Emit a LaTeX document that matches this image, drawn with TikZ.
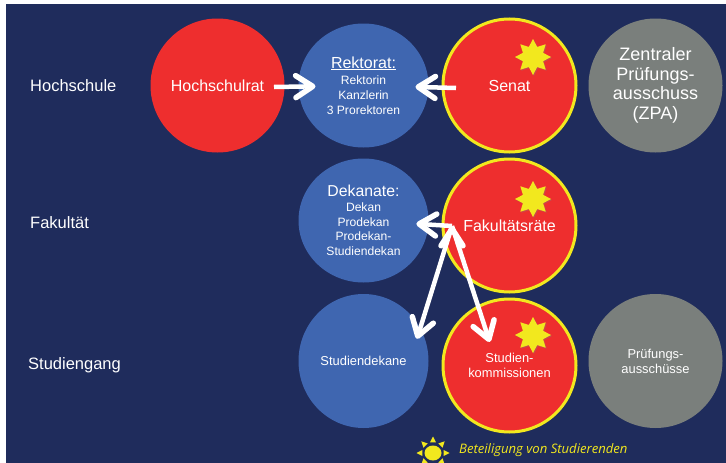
\documentclass[tikz,border=0pt]{standalone}
\usepackage{fontspec}
\setmainfont{Liberation Sans}
\newfontfamily\legendfont{Open Sans}
\usetikzlibrary{arrows.meta,shapes,shadows,positioning}

\definecolor{navy}{HTML}{1F2C5C}
\definecolor{gremred}{HTML}{EE2E2E}
\definecolor{gremblue}{HTML}{3F66B0}
\definecolor{gremgray}{HTML}{7A7F7C}
\definecolor{sunyellow}{HTML}{F2E81E}

\begin{document}
\begin{tikzpicture}[x=1pt,y=-1pt,node distance=146pt,
	gremium/.style={ellipse,text=white,align=center,inner sep=0pt,outer sep=0pt,minimum width=134pt,minimum height=134pt},
	red/.style={gremium,fill=gremred},
	ring/.style={gremium,fill=gremred,draw=sunyellow,line width=3pt,minimum width=133pt,minimum height=133pt},
	blue/.style={gremium,fill=gremblue,minimum width=130pt},
	flat/.style={blue,minimum height=124pt},
	gray/.style={gremium,fill=gremgray},
	big/.style={font=\fontsize{16}{19}\selectfont},
	small/.style={font=\fontsize{12.1}{14.8}\selectfont},
	medium/.style={font=\fontsize{12.9}{15}\selectfont},
	level/.style={text=white,anchor=west,inner sep=0pt,font=\fontsize{16.5}{20}\selectfont},
	badge/.style={star,star points=8,star point ratio=1.65,fill=sunyellow,inner sep=0pt,minimum size=36pt,
		drop shadow={shadow xshift=1pt,shadow yshift=-1pt,opacity=.35}},
	flow/.style={draw=white,line width=4.5pt,line join=round,
		-{Straight Barb[length=17pt,width=22pt,line width=5.5pt,round]}}]

	\useasboundingbox (0,0) rectangle (726,463);
	\fill[navy] (6,4) rectangle (726,463);

	% top row
	\node[red,big] (hochschulrat) at (217.5,85.5) {Hochschulrat};
	\node[flat,small] (rektorat) [right of=hochschulrat] {{\fontsize{16}{19}\selectfont\underline{Rektorat:}}\\[2pt]Rektorin\\Kanzlerin\\3 Prorektoren};
	\node[ring,big] (senat) [right of=rektorat] {Senat};
	\node[gray,font=\fontsize{18}{19.5}\selectfont] (zpa) [right of=senat] {Zentraler\\Prüfungs-\\ausschuss\\(ZPA)};

	% middle and bottom row
	\node[flat,small] (dekanate) [below of=rektorat,node distance=135pt] {{\fontsize{15.8}{19}\selectfont Dekanate:}\\Dekan\\Prodekan\\Prodekan-\\Studiendekan};
	\node[ring,big] (fakultaet) [below of=senat,node distance=140pt] {Fakultätsräte};
	\node[blue,medium] (studiendekane) [below of=dekanate,node distance=140.5pt] {Studiendekane};
	\node[ring,medium] (kommissionen) [below of=fakultaet,node distance=140pt] {Studien-\\kommissionen};
	\node[gray,medium] (ausschuesse) [right of=studiendekane,node distance=292pt] {Prüfungs-\\ausschüsse};

	% stars
	\node[badge] (star1) at (533,57) {};
	\node[badge] (star2) at (533,199) {};
	\node[badge] (star3) at (533,335) {};

	% row labels
	\node[level] (hochschule) at (30,86) {Hochschule};
	\node[level] (fakultaetlabel) at (30,223) {Fakultät};
	\node[level] (studiengang) at (28,365) {Studiengang};

	% arrow tails
	\coordinate (hrtail) at (274,87);
	\coordinate (setail) at (456,88);
	\coordinate (fktail) at (452,226);

	\path[flow] (hrtail) edge[shorten >=-17pt] (rektorat)
		(setail) edge[shorten >=-13pt] (rektorat)
		(fktail) edge[shorten >=-12pt] (dekanate)
			edge[shorten >=-11pt] (studiendekane.30)
			edge[shorten >=-37pt] (kommissionen.118);

	% legend
	\node[ellipse,fill=sunyellow,inner sep=0pt,minimum width=17pt,minimum height=15pt] (sun) at (433,453) {};
	\foreach \a in {0,45,...,315}
		\fill[sunyellow] ([shift={(\a:16.5pt)}]sun.center) -- ([shift={(\a+16:11pt)}]sun.center) -- ([shift={(\a-16:11pt)}]sun.center) -- cycle;
	\node[anchor=west,inner sep=0pt,text=sunyellow,font=\legendfont\itshape\fontsize{13.1}{15}\selectfont] (legend) at (459,450) {Beteiligung von Studierenden};
\end{tikzpicture}
\end{document}
